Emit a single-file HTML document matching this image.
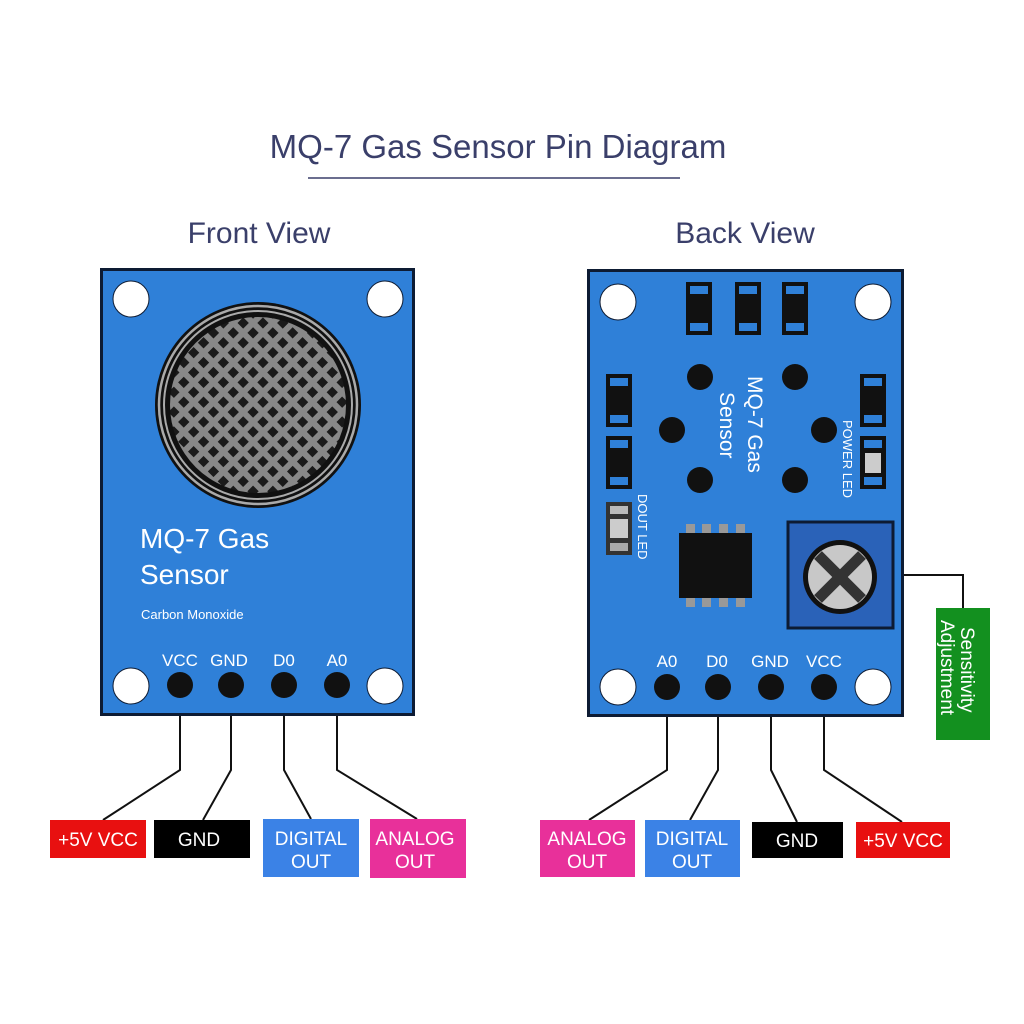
<!DOCTYPE html>
<html><head><meta charset="utf-8"><style>
html,body{margin:0;padding:0;background:#fff;}
svg{display:block;}
text{font-family:"Liberation Sans",sans-serif;}
</style></head><body>
<svg width="1024" height="1024" viewBox="0 0 1024 1024" xmlns="http://www.w3.org/2000/svg">
<defs>
<pattern id="mesh" width="14" height="14" patternUnits="userSpaceOnUse" patternTransform="rotate(45 258 405)">
<rect width="14" height="14" fill="#888"/>
<rect x="3.5" y="3.5" width="8" height="8" fill="#1a1a1a"/>
</pattern>
</defs>
<rect width="1024" height="1024" fill="#fff"/>
<text x="498" y="158" font-size="33" fill="#3a3f6a" text-anchor="middle">MQ-7 Gas Sensor Pin Diagram</text>
<line x1="308" y1="178" x2="680" y2="178" stroke="#3a3f6a" stroke-width="1.5"/>
<text x="259" y="243" font-size="30" fill="#3a3f6a" text-anchor="middle">Front View</text>
<text x="745" y="243" font-size="30" fill="#3a3f6a" text-anchor="middle">Back View</text>

<!-- FRONT -->
<g stroke="#111" stroke-width="2" fill="none">
<polyline points="180,690 180,770 103,820"/>
<polyline points="231,690 231,770 203,820"/>
<polyline points="284,690 284,770 311,819"/>
<polyline points="337,690 337,770 417,819"/>
</g>
<rect x="101.5" y="269.5" width="312" height="445" fill="#2f80d8" stroke="#0d1b33" stroke-width="3"/>
<g fill="#fff" stroke="#0d1b33" stroke-width="1">
<circle cx="131" cy="299" r="18"/><circle cx="385" cy="299" r="18"/>
<circle cx="131" cy="686" r="18"/><circle cx="385" cy="686" r="18"/>
</g>
<circle cx="258" cy="405" r="103" fill="#111"/>
<circle cx="258" cy="405" r="99" fill="none" stroke="#aaa" stroke-width="2.5"/>
<circle cx="258" cy="405" r="94" fill="none" stroke="#aaa" stroke-width="2"/>
<circle cx="258" cy="405" r="88" fill="url(#mesh)"/>
<text x="140" y="548" font-size="28" fill="#fff">MQ-7 Gas</text>
<text x="140" y="584" font-size="28" fill="#fff">Sensor</text>
<text x="141" y="619" font-size="13" fill="#fff">Carbon Monoxide</text>
<g font-size="17" fill="#fff" text-anchor="middle">
<text x="180" y="666">VCC</text><text x="229" y="666">GND</text><text x="284" y="666">D0</text><text x="337" y="666">A0</text>
</g>
<g fill="#111"><circle cx="180" cy="685" r="13"/><circle cx="231" cy="685" r="13"/><circle cx="284" cy="685" r="13"/><circle cx="337" cy="685" r="13"/></g>

<rect x="50" y="820" width="96" height="38" fill="#e81010"/>
<text x="98" y="846" font-size="19" fill="#fff" text-anchor="middle">+5V VCC</text>
<rect x="154" y="820" width="96" height="38" fill="#000"/>
<text x="199" y="846" font-size="19" fill="#fff" text-anchor="middle">GND</text>
<rect x="263" y="819" width="96" height="58" fill="#3b82e6"/>
<text x="311" y="845" font-size="19" fill="#fff" text-anchor="middle">DIGITAL</text>
<text x="311" y="868" font-size="19" fill="#fff" text-anchor="middle">OUT</text>
<rect x="370" y="819" width="96" height="59" fill="#e8309a"/>
<text x="415" y="845" font-size="19" fill="#fff" text-anchor="middle">ANALOG</text>
<text x="415" y="868" font-size="19" fill="#fff" text-anchor="middle">OUT</text>

<!-- BACK -->
<g stroke="#111" stroke-width="2" fill="none">
<polyline points="667,692 667,770 589,820"/>
<polyline points="718,692 718,770 690,820"/>
<polyline points="771,692 771,770 797,822"/>
<polyline points="824,692 824,770 902,822"/>
<polyline points="893,575 963,575 963,608"/>
</g>
<rect x="588.5" y="270.5" width="314" height="445" fill="#2f80d8" stroke="#0d1b33" stroke-width="3"/>
<g fill="#fff" stroke="#0d1b33" stroke-width="1">
<circle cx="618" cy="302" r="18"/><circle cx="873" cy="302" r="18"/>
<circle cx="618" cy="687" r="18"/><circle cx="873" cy="687" r="18"/>
</g>
<!-- top resistors -->
<g>
<g transform="translate(686,282)"><rect width="26" height="53" fill="#111"/><rect x="4" y="4" width="18" height="8" fill="#2f80d8"/><rect x="4" y="41" width="18" height="8" fill="#2f80d8"/></g>
<g transform="translate(735,282)"><rect width="26" height="53" fill="#111"/><rect x="4" y="4" width="18" height="8" fill="#2f80d8"/><rect x="4" y="41" width="18" height="8" fill="#2f80d8"/></g>
<g transform="translate(782,282)"><rect width="26" height="53" fill="#111"/><rect x="4" y="4" width="18" height="8" fill="#2f80d8"/><rect x="4" y="41" width="18" height="8" fill="#2f80d8"/></g>
<g transform="translate(606,374)"><rect width="26" height="53" fill="#111"/><rect x="4" y="4" width="18" height="8" fill="#2f80d8"/><rect x="4" y="41" width="18" height="8" fill="#2f80d8"/></g>
<g transform="translate(606,436)"><rect width="26" height="53" fill="#111"/><rect x="4" y="4" width="18" height="8" fill="#2f80d8"/><rect x="4" y="41" width="18" height="8" fill="#2f80d8"/></g>
<g transform="translate(860,374)"><rect width="26" height="53" fill="#111"/><rect x="4" y="4" width="18" height="8" fill="#2f80d8"/><rect x="4" y="41" width="18" height="8" fill="#2f80d8"/></g>
<g transform="translate(860,436)"><rect width="26" height="53" fill="#111"/><rect x="4" y="4" width="18" height="8" fill="#2f80d8"/><rect x="5" y="17" width="16" height="20" fill="#ccc"/><rect x="4" y="41" width="18" height="8" fill="#2f80d8"/></g>
<g transform="translate(606,502)"><rect width="26" height="53" fill="#333"/><rect x="4" y="4" width="18" height="8" fill="#bbb"/><rect x="4" y="17" width="18" height="19" fill="#ccc"/><rect x="4" y="41" width="18" height="8" fill="#aaa"/></g>
</g>
<g fill="#111">
<circle cx="700" cy="377" r="13"/><circle cx="795" cy="377" r="13"/>
<circle cx="672" cy="430" r="13"/><circle cx="824" cy="430" r="13"/>
<circle cx="700" cy="480" r="13"/><circle cx="795" cy="480" r="13"/>
</g>
<g transform="translate(748,376) rotate(90)" fill="#fff" font-size="21">
<text x="0" y="0">MQ-7 Gas</text>
<text x="0" y="28" dx="16">Sensor</text>
</g>
<text transform="translate(843,420) rotate(90)" font-size="13" fill="#fff">POWER LED</text>
<text transform="translate(638,494) rotate(90)" font-size="13" fill="#fff">DOUT LED</text>
<!-- IC -->
<g fill="#999">
<rect x="686" y="524" width="9" height="10"/><rect x="702" y="524" width="9" height="10"/><rect x="719" y="524" width="9" height="10"/><rect x="736" y="524" width="9" height="10"/>
<rect x="686" y="597" width="9" height="10"/><rect x="702" y="597" width="9" height="10"/><rect x="719" y="597" width="9" height="10"/><rect x="736" y="597" width="9" height="10"/>
</g>
<rect x="679" y="533" width="73" height="65" fill="#111"/>
<!-- pot -->
<rect x="788" y="522" width="105" height="106" fill="#2a62b8" stroke="#0d1b33" stroke-width="3"/>
<circle cx="840" cy="577" r="37" fill="#111"/>
<circle cx="840" cy="577" r="32" fill="#c8c8c8"/>
<g stroke="#333" stroke-width="11"><line x1="818" y1="555" x2="862" y2="599"/><line x1="862" y1="555" x2="818" y2="599"/></g>
<g font-size="17" fill="#fff" text-anchor="middle">
<text x="667" y="667">A0</text><text x="717" y="667">D0</text><text x="770" y="667">GND</text><text x="824" y="667">VCC</text>
</g>
<g fill="#111"><circle cx="667" cy="687" r="13"/><circle cx="718" cy="687" r="13"/><circle cx="771" cy="687" r="13"/><circle cx="824" cy="687" r="13"/></g>

<rect x="936" y="608" width="54" height="132" fill="#13901f"/>
<g transform="rotate(90)" font-size="19" fill="#fff">
<text x="627" y="-961">Sensitivity</text>
<text x="620" y="-941">Adjustment</text>
</g>

<rect x="540" y="820" width="95" height="57" fill="#e8309a"/>
<text x="587" y="845" font-size="19" fill="#fff" text-anchor="middle">ANALOG</text>
<text x="587" y="868" font-size="19" fill="#fff" text-anchor="middle">OUT</text>
<rect x="645" y="820" width="95" height="57" fill="#3b82e6"/>
<text x="692" y="845" font-size="19" fill="#fff" text-anchor="middle">DIGITAL</text>
<text x="692" y="868" font-size="19" fill="#fff" text-anchor="middle">OUT</text>
<rect x="752" y="822" width="91" height="36" fill="#000"/>
<text x="797" y="847" font-size="19" fill="#fff" text-anchor="middle">GND</text>
<rect x="856" y="822" width="94" height="36" fill="#e81010"/>
<text x="903" y="847" font-size="19" fill="#fff" text-anchor="middle">+5V VCC</text>
</svg>
</body></html>
